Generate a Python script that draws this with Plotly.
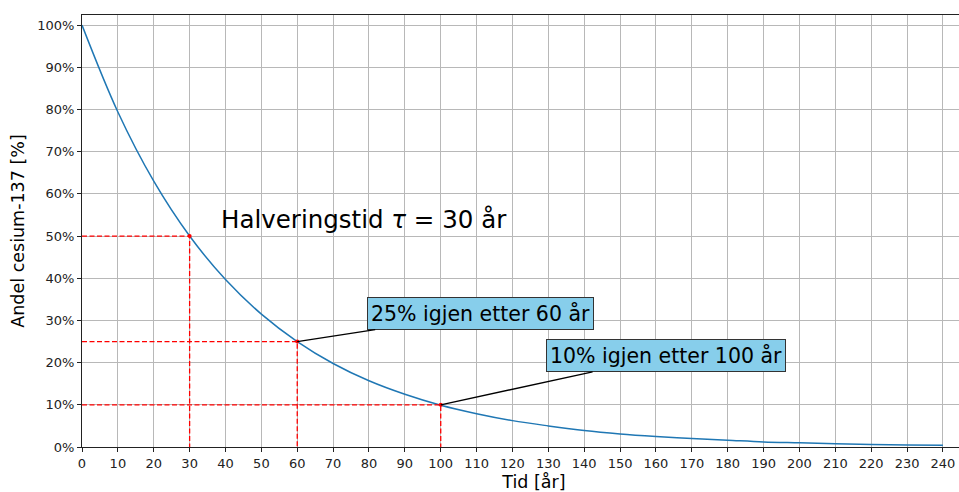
import plotly.graph_objects as go

# Time (years) and remaining share of Cs-137 (%)
years = [0, 10, 20, 30, 40, 50, 60, 70, 80, 90, 100, 110, 120, 130, 140, 150,
         160, 170, 180, 190, 200, 210, 220, 230, 240]
share = [100, 79.4, 63.0, 50.0, 39.7, 31.5, 25.0, 19.8, 15.7, 12.5, 9.9, 7.9,
         6.25, 5.0, 3.9, 3.1, 2.5, 2.0, 1.6, 1.2, 1.0, 0.8, 0.6, 0.5, 0.4]

# Marked points
marked_t = [30, 60, 100]
marked_pct = [50, 25, 10]

x_ticks = list(range(0, 241, 10))
y_ticks = list(range(0, 101, 10))
y_tick_labels = [f"{v}%" for v in y_ticks]

font_family = "DejaVu Sans"
fig = go.Figure()

fig.add_trace(go.Scatter(x=years, y=share, mode="lines", line_shape="spline",
                         line=dict(color="#1f77b4", width=1.5), showlegend=False,
                         hoverinfo="skip"))

for t, p in zip(marked_t, marked_pct):
    fig.add_trace(go.Scatter(x=[0, t, t], y=[p, p, 0], mode="lines",
                             line=dict(color="red", width=1.3, dash="5px,2.5px"),
                             showlegend=False, hoverinfo="skip"))

fig.add_trace(go.Scatter(x=marked_t, y=marked_pct, mode="markers",
                         marker=dict(color="red", size=4), showlegend=False,
                         hoverinfo="skip"))

fig.add_annotation(x=38.3, y=54.0, xref="x", yref="y", xanchor="left", yanchor="middle",
                   text="Halveringstid <i>τ</i> = 30 år", showarrow=False,
                   font=dict(family=font_family, size=24.5, color="black"))

box_style = dict(bgcolor="#87ceeb", bordercolor="#333333", borderwidth=1, borderpad=3,
                 font=dict(family=font_family, size=20.5, color="black"),
                 showarrow=True, arrowhead=0, arrowwidth=1.3, arrowcolor="black",
                 axref="x", ayref="y", xref="x", yref="y")

fig.add_annotation(x=marked_t[1], y=marked_pct[1], ax=111.1, ay=31.6,
                   text="25% igjen etter 60 år", **box_style)
fig.add_annotation(x=marked_t[2], y=marked_pct[2], ax=162.9, ay=21.6,
                   text="10% igjen etter 100 år", **box_style)

axis_common = dict(showline=True, linecolor="#222222", linewidth=1, mirror=True,
                   ticks="outside", ticklen=4, tickcolor="#222222",
                   showgrid=True, gridcolor="#b8b8b8", gridwidth=0.8, zeroline=False,
                   tickfont=dict(family=font_family, size=13, color="#222222"))

fig.update_xaxes(range=[0, 252], tickvals=x_ticks,
                 title=dict(text="Tid [år]", font=dict(family=font_family, size=17.5, color="black"),
                            standoff=6),
                 **axis_common)
fig.update_yaxes(range=[0, 102.4], tickvals=y_ticks, ticktext=y_tick_labels,
                 title=dict(text="Andel cesium-137 [%]",
                            font=dict(family=font_family, size=17.5, color="black"),
                            standoff=8),
                 **axis_common)

fig.update_layout(width=990, height=492, margin=dict(l=82, r=4, t=15, b=45, autoexpand=False),
                  plot_bgcolor="white", paper_bgcolor="white",
                  font=dict(family=font_family))

fig.write_html("out.html", config={"displayModeBar": False},
               post_script="document.body.style.margin='0';document.body.style.overflow='hidden';")
